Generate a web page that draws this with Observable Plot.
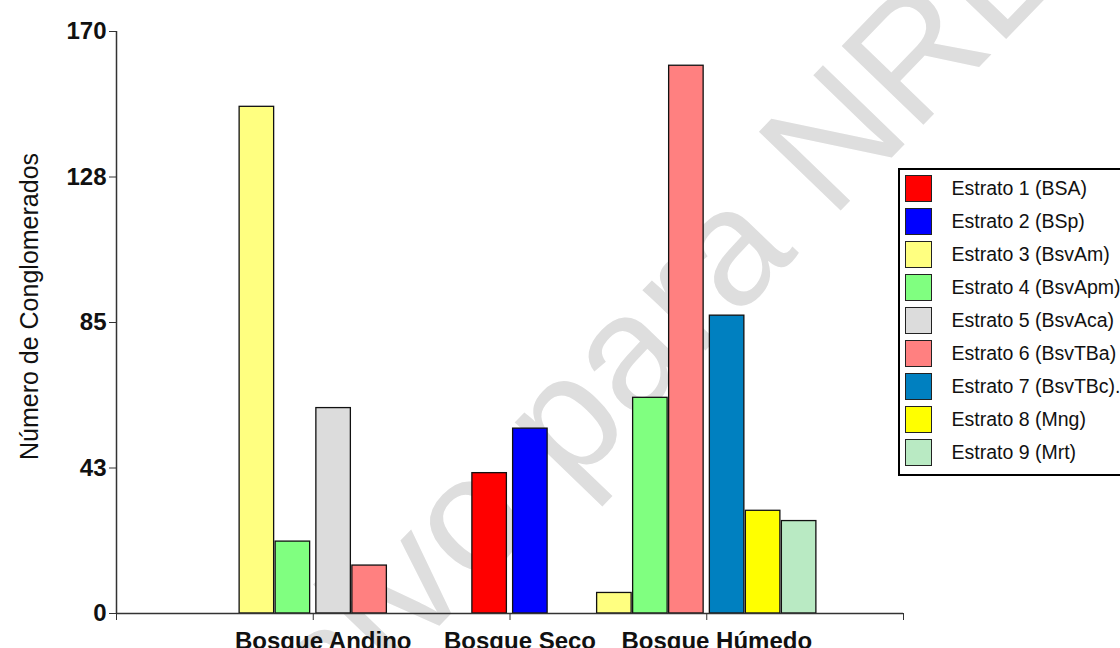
<!DOCTYPE html>
<html>
<head>
<meta charset="utf-8">
<script src="https://cdn.jsdelivr.net/npm/d3@7"></script>
<script src="https://cdn.jsdelivr.net/npm/@observablehq/plot@0.6"></script>
<style>
  html, body { margin: 0; padding: 0; background: #fff; overflow: hidden; }
  #wrap { position: relative; width: 1120px; height: 648px; overflow: hidden; }
  #legend {
    position: absolute; left: 898px; top: 168px; width: 240px;
    border: 2.5px solid #000; background: #fff; box-sizing: border-box;
    padding: 2px 0 5px 4.5px;
    font-family: "Liberation Sans", Arial, sans-serif; font-size: 19.5px; color: #111;
  }
  .row { display: flex; align-items: center; height: 33px; }
  .sw { width: 27px; height: 27px; box-sizing: border-box; border: 1.5px solid #222; margin-right: 20px; flex: none; }
</style>
</head>
<body>
<div id="wrap"></div>
<script>
// ---- data ----
const groups = ["Bosque Andino", "Bosque Seco", "Bosque Húmedo"];
const estratos = [
  "Estrato 1 (BSA)", "Estrato 2 (BSp)", "Estrato 3 (BsvAm)", "Estrato 4 (BsvApm)",
  "Estrato 5 (BsvAca)", "Estrato 6 (BsvTBa)", "Estrato 7 (BsvTBc).", "Estrato 8 (Mng)", "Estrato 9 (Mrt)"
];
const colors = ["#ff0000", "#0000ff", "#ffff80", "#80ff80", "#dcdcdc", "#ff8080", "#0080c0", "#ffff00", "#b9eac3"];
// values per estrato (null = no bar) for each forest type
const andinoValues = [null, null, 148, 21, 60, 14, null, null, null];
const secoValues   = [41, 54, null, null, null, null, null, null, null];
const humedoValues = [null, null, 6, 63, null, 160, 87, 30, 27];
const xTicks = [0, 1, 2, 3, 4];
const yTicks = [0, 42.5, 85, 127.5, 170];
const yTickLabels = ["0", "43", "85", "128", "170"];
const yTitle = "Número de Conglomerados";
const watermark = "Exclusivo para NREI";

// ---- layout (bar step in category units) ----
const step = 0.183, centerGap = 0.012;
const series = [andinoValues, secoValues, humedoValues];
const rows = [];
series.forEach((vals, gi) => {
  const present = vals.map((v, i) => ({v, i})).filter(d => d.v != null);
  const n = present.length, mid = (n - 1) / 2;
  present.forEach((d, k) => {
    const off = (k - mid) * step + (k < mid ? -centerGap : k > mid ? centerGap : 0);
    rows.push({group: groups[gi], estrato: estratos[d.i], value: d.v, c: gi + 1 + off});
  });
});

const font = "'Liberation Sans', Arial, sans-serif";
const plot = Plot.plot({
  width: 1120, height: 648,
  marginLeft: 116, marginRight: 217, marginTop: 31, marginBottom: 35,
  style: {fontFamily: font, background: "transparent", color: "#111", overflow: "visible"},
  x: {domain: [0, 4]},
  y: {domain: [0, 170]},
  color: {domain: estratos, range: colors},
  marks: [
    Plot.rectY(rows, {
      x1: d => d.c - step / 2, x2: d => d.c + step / 2, y: "value",
      fill: "estrato", stroke: "#111", strokeWidth: 1.3, insetLeft: 0.75, insetRight: 0.75
    }),
    Plot.axisY({ticks: yTicks, tickFormat: d => yTickLabels[yTicks.indexOf(d)], tickSize: 7, tickPadding: 3,
      fontSize: 24, fontWeight: "bold", label: null, stroke: "#333"}),
    // tick marks only
    Plot.axisX({ticks: xTicks, tickFormat: () => "", tickSize: 7, label: null, stroke: "#333"}),
    // group labels only
    Plot.axisX({ticks: xTicks.filter(t => groups[t - 1]), tickFormat: d => groups[d - 1], tickSize: 0,
      tickPadding: 18, dx: 10, fontSize: 24, fontWeight: "bold", label: null}),
    Plot.ruleX([0], {stroke: "#333", strokeWidth: 1.5}),
    Plot.ruleY([0], {stroke: "#333", strokeWidth: 1.5}),
    Plot.text([yTitle], {frameAnchor: "left", rotate: -90, dx: -87, dy: -16, fontSize: 25,
      lineAnchor: "middle", textAnchor: "middle", fill: "#111"})
  ]
});

const wrap = document.getElementById("wrap");
wrap.appendChild(plot);

// watermark behind the marks
const svg = d3.select(plot);
svg.insert("text", ":first-child")
  .attr("transform", "translate(54,1025) rotate(-46)")
  .attr("text-anchor", "start")
  .attr("font-family", font).attr("font-size", 165).attr("fill", "#dedede")
  .text(watermark);

// legend
const legend = document.createElement("div");
legend.id = "legend";
estratos.forEach((e, i) => {
  const r = document.createElement("div"); r.className = "row";
  const s = document.createElement("div"); s.className = "sw"; s.style.background = colors[i];
  const t = document.createElement("span"); t.textContent = e;
  r.appendChild(s); r.appendChild(t); legend.appendChild(r);
});
wrap.appendChild(legend);
</script>
</body>
</html>
